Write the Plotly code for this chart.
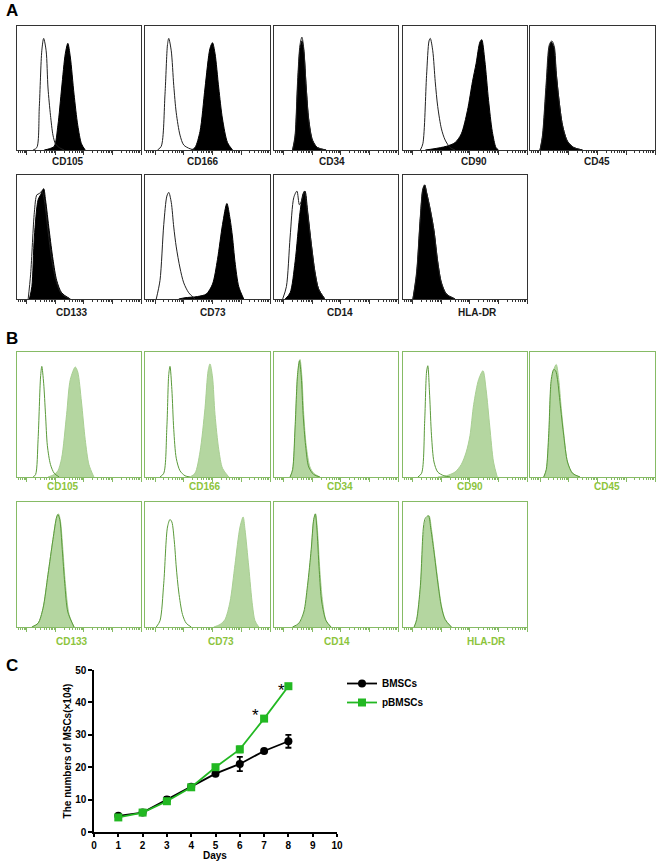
import math
import plotly.graph_objects as go

# ---------------- data ----------------
ROW1_MARKERS = ["CD105", "CD166", "CD34", "CD90", "CD45"]
ROW2_MARKERS = ["CD133", "CD73", "CD14", "HLA-DR"]

# histogram curves: (position across log axis as fraction of box width, relative count)
A_CTRL = {
    "CD105": [(0.13,0),(0.16,0.02),(0.18,0.35),(0.20,0.8),(0.215,0.9),(0.235,0.8),(0.25,0.5),(0.27,0.28),(0.29,0.12),(0.31,0.05),(0.34,0.02),(0.38,0)],
    "CD166": [(0.10,0),(0.13,0.03),(0.16,0.45),(0.18,0.85),(0.19,0.9),(0.21,0.8),(0.23,0.52),(0.25,0.3),(0.28,0.12),(0.31,0.04),(0.36,0.01),(0.40,0)],
    "CD34":  [(0.15,0),(0.17,0.12),(0.19,0.55),(0.21,0.85),(0.225,0.91),(0.24,0.82),(0.26,0.5),(0.28,0.24),(0.31,0.08),(0.35,0.02),(0.42,0)],
    "CD90":  [(0.14,0),(0.16,0.05),(0.19,0.6),(0.21,0.88),(0.22,0.9),(0.24,0.8),(0.26,0.55),(0.28,0.35),(0.31,0.17),(0.34,0.08),(0.38,0.02),(0.42,0)],
    "CD45":  [(0.08,0),(0.10,0.12),(0.13,0.55),(0.155,0.85),(0.175,0.88),(0.195,0.83),(0.21,0.62),(0.23,0.42),(0.26,0.2),(0.30,0.07),(0.35,0.02),(0.42,0)],
    "CD133": [(0.09,0),(0.11,0.2),(0.14,0.7),(0.16,0.84),(0.18,0.85),(0.20,0.87),(0.22,0.8),(0.25,0.55),(0.28,0.32),(0.32,0.13),(0.36,0.04),(0.43,0)],
    "CD73":  [(0.09,0),(0.12,0.15),(0.15,0.6),(0.175,0.83),(0.19,0.86),(0.21,0.78),(0.23,0.58),(0.25,0.42),(0.28,0.25),(0.31,0.13),(0.35,0.05),(0.40,0)],
    "CD14":  [(0.07,0),(0.10,0.1),(0.13,0.5),(0.16,0.82),(0.185,0.87),(0.205,0.76),(0.225,0.8),(0.245,0.87),(0.27,0.7),(0.30,0.45),(0.33,0.22),(0.36,0.08),(0.41,0)],
    "HLA-DR":[(0.08,0),(0.11,0.22),(0.14,0.67),(0.16,0.89),(0.175,0.92),(0.19,0.86),(0.22,0.72),(0.25,0.55),(0.28,0.3),(0.31,0.13),(0.35,0.04),(0.42,0)],
}
A_STAIN = {
    "CD105": [(0.22,0),(0.26,0.01),(0.30,0.03),(0.33,0.2),(0.36,0.5),(0.39,0.78),(0.41,0.86),(0.43,0.75),(0.46,0.45),(0.49,0.2),(0.52,0.05),(0.55,0)],
    "CD166": [(0.37,0),(0.40,0.02),(0.44,0.15),(0.48,0.5),(0.52,0.82),(0.54,0.865),(0.56,0.78),(0.59,0.5),(0.62,0.25),(0.66,0.06),(0.70,0)],
    "CD34":  [(0.15,0),(0.17,0.1),(0.19,0.5),(0.21,0.82),(0.225,0.88),(0.24,0.8),(0.26,0.5),(0.28,0.25),(0.31,0.08),(0.35,0.02),(0.42,0)],
    "CD90":  [(0.18,0),(0.25,0.01),(0.35,0.03),(0.42,0.06),(0.47,0.13),(0.52,0.32),(0.56,0.55),(0.59,0.7),(0.62,0.87),(0.635,0.89),(0.66,0.72),(0.69,0.4),(0.72,0.15),(0.75,0.02),(0.77,0)],
    "CD45":  [(0.08,0),(0.10,0.1),(0.13,0.5),(0.155,0.83),(0.17,0.87),(0.19,0.83),(0.21,0.62),(0.23,0.42),(0.26,0.2),(0.30,0.07),(0.35,0.02),(0.42,0)],
    "CD133": [(0.10,0),(0.12,0.1),(0.14,0.5),(0.17,0.8),(0.19,0.84),(0.215,0.89),(0.23,0.8),(0.26,0.55),(0.29,0.32),(0.32,0.15),(0.36,0.05),(0.43,0)],
    "CD73":  [(0.27,0),(0.32,0.01),(0.42,0.02),(0.49,0.04),(0.54,0.12),(0.58,0.32),(0.62,0.6),(0.655,0.77),(0.68,0.65),(0.70,0.5),(0.72,0.3),(0.75,0.1),(0.79,0)],
    "CD14":  [(0.09,0),(0.13,0.05),(0.17,0.3),(0.21,0.7),(0.235,0.85),(0.25,0.87),(0.27,0.72),(0.30,0.45),(0.33,0.22),(0.36,0.08),(0.41,0)],
    "HLA-DR":[(0.08,0),(0.11,0.2),(0.14,0.65),(0.16,0.88),(0.175,0.92),(0.19,0.86),(0.22,0.72),(0.25,0.55),(0.28,0.3),(0.31,0.13),(0.35,0.04),(0.42,0)],
}
B_CTRL = {
    "CD105": [(0.13,0),(0.15,0.02),(0.17,0.3),(0.19,0.8),(0.20,0.885),(0.215,0.75),(0.23,0.5),(0.245,0.25),(0.27,0.1),(0.30,0.03),(0.34,0)],
    "CD166": [(0.12,0),(0.15,0.03),(0.175,0.4),(0.19,0.82),(0.20,0.885),(0.215,0.7),(0.23,0.38),(0.25,0.15),(0.28,0.05),(0.32,0.01),(0.36,0)],
    "CD34":  [(0.13,0),(0.15,0.06),(0.17,0.4),(0.19,0.82),(0.205,0.93),(0.22,0.8),(0.235,0.5),(0.255,0.25),(0.28,0.08),(0.32,0.02),(0.37,0)],
    "CD90":  [(0.12,0),(0.15,0.03),(0.175,0.45),(0.19,0.84),(0.20,0.89),(0.215,0.65),(0.23,0.33),(0.25,0.12),(0.28,0.04),(0.33,0.01),(0.38,0)],
    "CD45":  [(0.11,0),(0.13,0.06),(0.15,0.35),(0.17,0.78),(0.19,0.86),(0.205,0.85),(0.22,0.78),(0.245,0.55),(0.27,0.33),(0.30,0.12),(0.34,0.03),(0.40,0)],
    "CD133": [(0.12,0),(0.17,0.03),(0.21,0.15),(0.25,0.42),(0.29,0.7),(0.32,0.88),(0.33,0.9),(0.345,0.86),(0.365,0.62),(0.385,0.35),(0.41,0.12),(0.46,0)],
    "CD73":  [(0.09,0),(0.12,0.05),(0.15,0.35),(0.18,0.8),(0.20,0.86),(0.215,0.84),(0.235,0.68),(0.25,0.48),(0.27,0.28),(0.30,0.1),(0.33,0.03),(0.37,0)],
    "CD14":  [(0.15,0),(0.20,0.03),(0.24,0.12),(0.27,0.33),(0.30,0.62),(0.32,0.86),(0.333,0.905),(0.345,0.8),(0.365,0.45),(0.385,0.2),(0.42,0.05),(0.46,0)],
    "HLA-DR":[(0.09,0),(0.11,0.06),(0.14,0.33),(0.165,0.8),(0.18,0.87),(0.205,0.89),(0.225,0.78),(0.25,0.6),(0.28,0.36),(0.31,0.16),(0.34,0.06),(0.39,0)],
}
B_STAIN = {
    "CD105": [(0.25,0),(0.30,0.02),(0.33,0.05),(0.36,0.15),(0.40,0.5),(0.43,0.78),(0.47,0.88),(0.49,0.84),(0.52,0.6),(0.55,0.3),(0.58,0.1),(0.62,0)],
    "CD166": [(0.36,0),(0.40,0.03),(0.44,0.2),(0.48,0.55),(0.505,0.85),(0.52,0.905),(0.54,0.8),(0.56,0.5),(0.59,0.22),(0.62,0.07),(0.67,0)],
    "CD34":  [(0.13,0),(0.15,0.05),(0.17,0.35),(0.19,0.8),(0.21,0.94),(0.225,0.8),(0.24,0.5),(0.26,0.25),(0.29,0.08),(0.32,0.03),(0.37,0)],
    "CD90":  [(0.28,0),(0.35,0.01),(0.42,0.04),(0.47,0.1),(0.51,0.2),(0.54,0.33),(0.57,0.58),(0.61,0.78),(0.645,0.85),(0.67,0.7),(0.70,0.4),(0.73,0.12),(0.76,0)],
    "CD45":  [(0.11,0),(0.13,0.05),(0.15,0.3),(0.17,0.75),(0.19,0.86),(0.21,0.9),(0.23,0.78),(0.25,0.55),(0.27,0.35),(0.30,0.12),(0.34,0.03),(0.40,0)],
    "CD133": [(0.12,0),(0.17,0.03),(0.21,0.15),(0.25,0.42),(0.29,0.7),(0.32,0.88),(0.335,0.905),(0.35,0.85),(0.37,0.62),(0.39,0.35),(0.42,0.1),(0.46,0)],
    "CD73":  [(0.55,0),(0.60,0.02),(0.64,0.06),(0.68,0.2),(0.72,0.5),(0.76,0.8),(0.785,0.88),(0.80,0.78),(0.83,0.48),(0.86,0.17),(0.88,0.05),(0.91,0)],
    "CD14":  [(0.15,0),(0.20,0.02),(0.24,0.1),(0.27,0.3),(0.30,0.6),(0.32,0.85),(0.335,0.905),(0.35,0.78),(0.37,0.45),(0.39,0.22),(0.42,0.05),(0.46,0)],
    "HLA-DR":[(0.09,0),(0.11,0.05),(0.14,0.3),(0.17,0.78),(0.19,0.87),(0.21,0.89),(0.23,0.78),(0.25,0.62),(0.28,0.38),(0.31,0.17),(0.34,0.06),(0.39,0)],
}

# growth curve (panel C)
DAYS = [1, 2, 3, 4, 5, 6, 7, 8]
BMSC = [5, 6, 10, 14, 18, 21, 25, 28]
BMSC_ERR = [0.5, 0.5, 0.8, 0.5, 0.5, 2.2, 0.5, 2.0]
PBMSC = [4.5, 6, 9.5, 13.8, 20, 25.5, 35, 45]
PBMSC_ERR = [0.3, 0.3, 0.4, 0.5, 0.5, 1.0, 0.6, 0.6]
STAR_X = [6.65, 7.7]
STAR_Y = [36.0, 43.6]

# ---------------- layout helpers ----------------
W, H = 658, 861
def fx(px): return px / W
def fy(py): return 1 - py / H

COLS = [(17, 141), (145, 270), (274, 398), (403, 527), (530, 655)]
ROWS = {"A1": (26, 150), "A2": (175, 299), "B1": (352, 477), "B2": (502, 627)}
LABEL_X = {"A1": [68, 203, 332, 474, 597], "A2": [72, 213, 340, 477],
           "B1": [63, 205, 340, 470, 607], "B2": [72, 221, 337, 487]}
LABEL_Y = {"A1": 161, "A2": 312, "B1": 486, "B2": 641}

# log-decade ticks on a fraction-of-width axis (first decade at 0.35/4.35)
def dec(v): return (0.35 + v) / 4.35
MAJOR = [dec(d) for d in range(5)]
MINOR = [dec(d + math.log10(k)) for d in range(-1, 4) for k in range(2, 10)
         if 0 <= dec(d + math.log10(k)) <= 1]

STY = {
    "A": dict(frame="#333333", ctrl="#222222", fill="#000000", fline="#000000", label="#1a1a1a"),
    "B": dict(frame="#86bb65", ctrl="#5a9a3a", fill="#b4d6a0", fline="#a9cf93", label="#8cc43c"),
}

fig = go.Figure()
layout = {}
annotations = []
ax = 0

def add_hist(group, row, col, name):
    global ax
    ax += 1
    s = STY[group]
    xr, yr = f"x{ax}", f"y{ax}"
    stain = (B_STAIN if group == "B" else A_STAIN)[name]
    ctrl = (B_CTRL if group == "B" else A_CTRL)[name]
    fig.add_trace(go.Scatter(x=[p[0] for p in stain], y=[p[1] for p in stain],
                             mode="lines", line=dict(color=s["fline"], width=1, shape="spline", smoothing=0.8),
                             fill="tozeroy", fillcolor=s["fill"], xaxis=xr, yaxis=yr,
                             showlegend=False, hoverinfo="skip"))
    fig.add_trace(go.Scatter(x=[p[0] for p in ctrl], y=[p[1] for p in ctrl],
                             mode="lines", line=dict(color=s["ctrl"], width=1, shape="spline", smoothing=0.8),
                             xaxis=xr, yaxis=yr, showlegend=False, hoverinfo="skip"))
    x0, x1 = COLS[col]
    y0, y1 = ROWS[row]
    layout[f"xaxis{ax}"] = dict(domain=[fx(x0), fx(x1)], range=[0, 1], showline=True, mirror=True,
                                linecolor=s["frame"], linewidth=1, ticks="outside", tickvals=MAJOR,
                                ticklen=4, tickwidth=1, tickcolor=s["frame"], showticklabels=False,
                                showgrid=False, zeroline=False, anchor=yr, automargin=False,
                                minor=dict(tickvals=MINOR, ticks="outside", ticklen=2, tickwidth=1,
                                           tickcolor=s["frame"], showgrid=False))
    layout[f"yaxis{ax}"] = dict(domain=[fy(y1), fy(y0)], range=[0, 1], showline=True, mirror=True,
                                linecolor=s["frame"], linewidth=1, ticks="", showticklabels=False,
                                showgrid=False, zeroline=False, anchor=xr, automargin=False)
    annotations.append(dict(x=fx(LABEL_X[row][col]), y=fy(LABEL_Y[row]), xref="paper", yref="paper",
                            text=f"<b>{name}</b>", showarrow=False, xanchor="center", yanchor="middle",
                            font=dict(size=10, color=s["label"], family="Liberation Sans")))

for g in ["A", "B"]:
    for i, m in enumerate(ROW1_MARKERS):
        add_hist(g, g + "1", i, m)
    for i, m in enumerate(ROW2_MARKERS):
        add_hist(g, g + "2", i, m)

# ---------------- panel C ----------------
ax += 1
xr, yr = f"x{ax}", f"y{ax}"
GREEN = "#22b822"
fig.add_trace(go.Scatter(x=DAYS, y=BMSC, name="<b>BMSCs</b>", mode="lines+markers",
                         line=dict(color="black", width=1.8), marker=dict(symbol="circle", size=8, color="black"),
                         error_y=dict(type="data", array=BMSC_ERR, color="black", thickness=1.8, width=3),
                         xaxis=xr, yaxis=yr))
fig.add_trace(go.Scatter(x=DAYS, y=PBMSC, name="<b>pBMSCs</b>", mode="lines+markers",
                         line=dict(color=GREEN, width=1.8), marker=dict(symbol="square", size=8, color=GREEN),
                         error_y=dict(type="data", array=PBMSC_ERR, color=GREEN, thickness=1.5, width=3),
                         xaxis=xr, yaxis=yr))
axis_font = dict(size=10, color="black", family="Liberation Sans", weight="bold")
layout[f"xaxis{ax}"] = dict(domain=[fx(94), fx(337)], range=[0, 10], dtick=1, showline=True, linecolor="black",
                            linewidth=1.5, ticks="outside", ticklen=3, tickwidth=1.5, tickcolor="black",
                            showgrid=False, zeroline=False, anchor=yr, tickfont=axis_font, automargin=False)
layout[f"yaxis{ax}"] = dict(domain=[fy(832), fy(670)], range=[0, 50], dtick=10, showline=True, linecolor="black",
                            linewidth=1.5, ticks="outside", ticklen=4, tickwidth=1.5, tickcolor="black",
                            showgrid=False, zeroline=False, anchor=xr, tickfont=axis_font, automargin=False,
                            title=dict(text="<b>The numbers of MSCs(×104)</b>", font=axis_font, standoff=2))
annotations.append(dict(x=fx(215), y=fy(855.5), xref="paper", yref="paper", text="<b>Days</b>",
                        showarrow=False, xanchor="center", yanchor="middle",
                        font=dict(size=10, color="black", family="Liberation Sans")))
for sx, sy in zip(STAR_X, STAR_Y):
    annotations.append(dict(x=sx, y=sy, xref=xr, yref=yr, text="*", showarrow=False,
                            font=dict(size=17, color="black", family="Liberation Sans")))

for t, py in [("A", 10), ("B", 338), ("C", 665)]:
    annotations.append(dict(x=fx(4), y=fy(py), xref="paper", yref="paper", text=f"<b>{t}</b>",
                            showarrow=False, xanchor="left", yanchor="middle",
                            font=dict(size=17, color="black", family="Liberation Sans")))

fig.update_layout(**layout)
fig.update_layout(width=W, height=H, margin=dict(l=0, r=0, t=0, b=0, autoexpand=False), plot_bgcolor="white",
                  paper_bgcolor="white", annotations=annotations,
                  font=dict(family="Liberation Sans"),
                  legend=dict(x=fx(342), y=fy(669), xanchor="left", yanchor="top",
                              font=dict(size=10, color="black", family="Liberation Sans"),
                              bgcolor="rgba(0,0,0,0)", tracegroupgap=2))
fig.write_html("out.html", config={"displayModeBar": False},
               post_script="document.body.style.margin='0';document.body.style.overflow='hidden';")
